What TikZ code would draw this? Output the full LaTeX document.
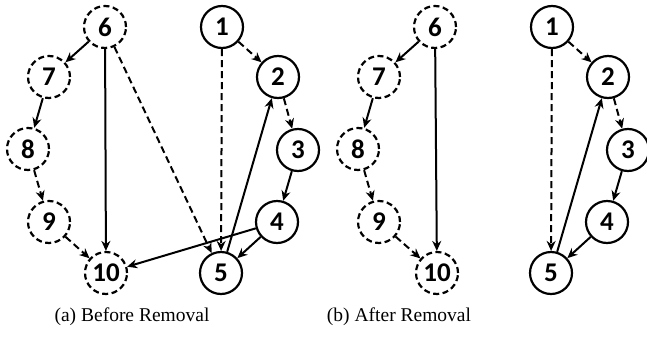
\documentclass[tikz,border=0pt]{standalone}
\usepackage{fontspec}
\setmainfont{Liberation Serif}
\newfontfamily\nodefont{Carlito}
\usetikzlibrary{arrows.meta}
\begin{document}
\begin{tikzpicture}[x=1pt,y=-1pt,
  vtx/.style={circle,draw,line width=2.2pt,minimum size=42pt,inner sep=0pt,font=\nodefont\bfseries\fontsize{27}{27}\selectfont},
  dvtx/.style={vtx,dash pattern=on 6pt off 3.5pt},
  edge/.style={line width=2pt,-{Stealth[length=10pt,width=9pt]}},
  dedge/.style={edge,dash pattern=on 7pt off 4pt},
  captext/.style={font=\fontsize{19.5}{20}\selectfont}]
\useasboundingbox (0,0) rectangle (647,351);
% panel (a)
\node[dvtx] (a6) at (105,27) {6};
\node[dvtx] (a7) at (49,77) {7};
\node[dvtx] (a8) at (28,149) {8};
\node[dvtx] (a9) at (49,222) {9};
\node[dvtx] (a10) at (106,273) {10};
\node[vtx] (a1) at (222,27) {1};
\node[vtx] (a2) at (278,77) {2};
\node[vtx] (a3) at (298,150) {3};
\node[vtx] (a4) at (277,222) {4};
\node[vtx] (a5) at (221,273) {5};
\draw[edge] (a6) -- (a7);
\draw[edge] (a6) -- (a10);
\draw[dedge] (a6) -- (a5);
\draw[edge] (a7) -- (a8);
\draw[dedge] (a8) -- (a9);
\draw[dedge] (a9) -- (a10);
\draw[dedge] (a1) -- (a2);
\draw[dedge] (a1) -- (a5);
\draw[dedge] (a2) -- (a3);
\draw[edge] (a3) -- (a4);
\draw[edge] (a4) -- (a5);
\draw[edge] (a4) -- (a10);
\draw[edge] (a5) -- (a2);
\node[captext] (capa) at (132,317) {(a) Before Removal};
% panel (b)
\node[dvtx] (b6) at (435,27) {6};
\node[dvtx] (b7) at (379,77) {7};
\node[dvtx] (b8) at (358,149) {8};
\node[dvtx] (b9) at (379,222) {9};
\node[dvtx] (b10) at (437,273) {10};
\node[vtx] (b1) at (552,27) {1};
\node[vtx] (b2) at (608,77) {2};
\node[vtx] (b3) at (628,150) {3};
\node[vtx] (b4) at (607,222) {4};
\node[vtx] (b5) at (551,273) {5};
\draw[edge] (b6) -- (b7);
\draw[edge] (b6) -- (b10);
\draw[edge] (b7) -- (b8);
\draw[dedge] (b8) -- (b9);
\draw[dedge] (b9) -- (b10);
\draw[dedge] (b1) -- (b2);
\draw[dedge] (b1) -- (b5);
\draw[dedge] (b2) -- (b3);
\draw[edge] (b3) -- (b4);
\draw[edge] (b4) -- (b5);
\draw[edge] (b5) -- (b2);
\node[captext] (capb) at (399,317) {(b) After Removal};
\end{tikzpicture}
\end{document}
